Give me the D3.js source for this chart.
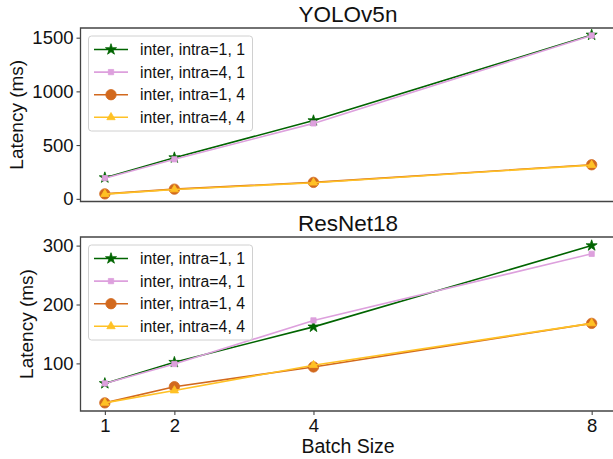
<!DOCTYPE html>
<html>
<head>
<meta charset="utf-8">
<script src="https://cdn.jsdelivr.net/npm/d3@7"></script>
<style>
  html, body { margin: 0; padding: 0; background: #fff; }
  svg { display: block; font-family: "Liberation Sans", Arial, sans-serif; }
</style>
</head>
<body>
<svg id="chart" width="613" height="459"></svg>
<script>
// Batch sizes on the shared x axis
const batchSizes = [1, 2, 4, 8];
const xTickLabels = ["1", "2", "4", "8"];

// Series names (legend text)
const seriesNames = ["inter, intra=1, 1", "inter, intra=4, 1", "inter, intra=1, 4", "inter, intra=4, 4"];

// YOLOv5n latency (ms)
const yoloIntra1Inter1 = [197, 383, 728, 1525];
const yoloIntra4Inter1 = [192, 368, 702, 1520];
const yoloIntra1Inter4 = [46, 90, 153, 317];
const yoloIntra4Inter4 = [44, 87, 150, 314];

// ResNet18 latency (ms)
const resIntra1Inter1 = [66, 102, 162, 300];
const resIntra4Inter1 = [66, 99, 173, 286];
const resIntra1Inter4 = [33, 60.5, 94, 168];
const resIntra4Inter4 = [33, 54, 97, 168];

const yoloTicks = [0, 500, 1000, 1500];
const resTicks = [100, 200, 300];

const styles = [
  { color: "#006400", marker: "star",     size: 38 },
  { color: "#DDA0DD", marker: "square",   size: 28 },
  { color: "#D2691E", marker: "circle",   size: 85 },
  { color: "#FFC125", marker: "triangle", size: 30 }
];
const symbolOf = { star: d3.symbolStar, square: d3.symbolSquare, circle: d3.symbolCircle, triangle: d3.symbolTriangle };

const svg = d3.select("#chart");
const x = d3.scaleLinear().domain([0.65, 8.35]).range([80.5, 616]);

const panels = [
  { title: "YOLOv5n", top: 28, bottom: 201.5, domain: [-25, 1590], ticks: yoloTicks,
    series: [yoloIntra1Inter1, yoloIntra4Inter1, yoloIntra1Inter4, yoloIntra4Inter4],
    showX: false, titleY: 22, labelX: 17, legendTop: 36 },
  { title: "ResNet18", top: 237, bottom: 411, domain: [19.2, 314.6], ticks: resTicks,
    series: [resIntra1Inter1, resIntra4Inter1, resIntra1Inter4, resIntra4Inter4],
    showX: true, titleY: 231, labelX: 27, legendTop: 245 }
];

panels.forEach((p, pi) => {
  const y = d3.scaleLinear().domain(p.domain).range([p.bottom, p.top]);
  const g = svg.append("g");
  const clipId = "clip" + pi;
  svg.append("clipPath").attr("id", clipId).append("rect")
    .attr("x", 80.5).attr("y", p.top).attr("width", 540).attr("height", p.bottom - p.top);

  // data lines and markers
  const plot = g.append("g").attr("clip-path", `url(#${clipId})`);
  const line = d3.line().x((d, i) => x(batchSizes[i])).y(d => y(d));
  p.series.forEach((vals, si) => {
    const st = styles[si];
    plot.append("path").datum(vals).attr("d", line)
      .attr("fill", "none").attr("stroke", st.color).attr("stroke-width", 1.6);
    plot.selectAll(null).data(vals).enter().append("path")
      .attr("d", d3.symbol().type(symbolOf[st.marker]).size(st.size))
      .attr("transform", (d, i) => `translate(${x(batchSizes[i])},${y(d)})`)
      .attr("fill", st.color).attr("stroke", st.color).attr("stroke-width", 0.8);
  });

  // y axis
  const yAxis = g.append("g").attr("transform", "translate(80.5,0)")
    .call(d3.axisLeft(y).tickValues(p.ticks).tickSize(4).tickPadding(3).tickFormat(d3.format("d")));
  yAxis.select(".domain").remove();
  yAxis.selectAll("line").attr("stroke", "#333");
  yAxis.selectAll("text").attr("font-size", 18.5).attr("fill", "#111")
    .attr("font-family", "Liberation Sans, Arial, sans-serif");

  // x axis (bottom panel only carries ticks and labels)
  if (p.showX) {
    const xAxis = g.append("g").attr("transform", `translate(0,${p.bottom})`)
      .call(d3.axisBottom(x).tickValues(batchSizes).tickSize(4).tickPadding(4)
        .tickFormat((d, i) => xTickLabels[i]));
    xAxis.select(".domain").remove();
    xAxis.selectAll("line").attr("stroke", "#333");
    xAxis.selectAll("text").attr("font-size", 18.5).attr("fill", "#111")
      .attr("font-family", "Liberation Sans, Arial, sans-serif");
  }

  // frame
  g.append("path")
    .attr("d", `M620,${p.top}H80.5V${p.bottom}H620`)
    .attr("fill", "none").attr("stroke", "#444").attr("stroke-width", 1.3);

  // title
  g.append("text").attr("x", 348).attr("y", p.titleY).attr("text-anchor", "middle")
    .attr("font-size", 22.5).attr("fill", "#111").text(p.title);

  // y label
  const cy = (p.top + p.bottom) / 2;
  g.append("text").attr("transform", `translate(${p.labelX + 6},${cy}) rotate(-90)`)
    .attr("text-anchor", "middle").attr("font-size", 19).attr("fill", "#111").text("Latency (ms)");

  // legend
  const lg = g.append("g");
  lg.append("rect").attr("x", 88.5).attr("y", p.legendTop).attr("width", 164).attr("height", 95)
    .attr("rx", 3).attr("fill", "rgba(255,255,255,0.85)").attr("stroke", "#d0d0d0").attr("stroke-width", 1);
  seriesNames.forEach((name, si) => {
    const st = styles[si];
    const ry = p.legendTop + 13.5 + si * 22.6;
    lg.append("line").attr("x1", 94).attr("x2", 128).attr("y1", ry).attr("y2", ry)
      .attr("stroke", st.color).attr("stroke-width", 1.6);
    lg.append("path").attr("d", d3.symbol().type(symbolOf[st.marker]).size(st.size))
      .attr("transform", `translate(111,${ry})`).attr("fill", st.color).attr("stroke", st.color).attr("stroke-width", 0.8);
    lg.append("text").attr("x", 140).attr("y", ry + 5.5).attr("font-size", 15.8).attr("fill", "#111").text(name);
  });
});

// shared x label
svg.append("text").attr("x", 348).attr("y", 453).attr("text-anchor", "middle")
  .attr("font-size", 19.5).attr("fill", "#111").text("Batch Size");
</script>
</body>
</html>
